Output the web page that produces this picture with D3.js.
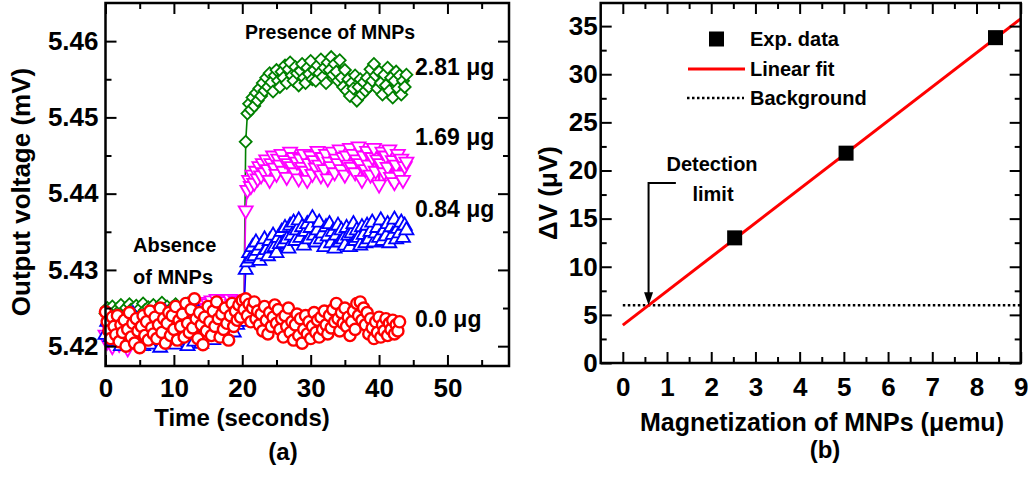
<!DOCTYPE html>
<html>
<head>
<meta charset="utf-8">
<script src="https://cdn.jsdelivr.net/npm/d3@7"></script>
<style>
  body { margin: 0; background: #fff; }
  svg text { font-family: "Liberation Sans", Arial, sans-serif; font-weight: bold; fill: #000; }
</style>
</head>
<body>
<svg id="chart" width="1028" height="478"></svg>
<script>
// ---- panel (a): output voltage (mV) sampled every 0.25 s ----
const sampleStep = 0.25;
const signal281 = [
  5.4243, 5.4250, 5.4238, 5.4247, 5.4252, 5.4240, 5.4235, 5.4249, 5.4246, 5.4254,
  5.4241, 5.4237, 5.4250, 5.4244, 5.4255, 5.4248, 5.4239, 5.4245, 5.4253, 5.4236,
  5.4249, 5.4242, 5.4256, 5.4247, 5.4238, 5.4251, 5.4244, 5.4240, 5.4254, 5.4246,
  5.4235, 5.4250, 5.4243, 5.4257, 5.4248, 5.4239, 5.4252, 5.4245, 5.4237, 5.4251,
  5.4244, 5.4255, 5.4240, 5.4248, 5.4236, 5.4253, 5.4246, 5.4242, 5.4256, 5.4249,
  5.4238, 5.4247, 5.4252, 5.4241, 5.4255, 5.4244, 5.4250, 5.4237, 5.4248, 5.4253,
  5.4243, 5.4256, 5.4240, 5.4249, 5.4246, 5.4252, 5.4239, 5.4254, 5.4245, 5.4250,
  5.4242, 5.4257, 5.4247, 5.4251, 5.4244, 5.4255, 5.4249, 5.4246, 5.4253, 5.4248,
  5.4250, 5.4251, 5.4468,
  5.4505, 5.4518, 5.4510, 5.4526, 5.4515, 5.4532, 5.4522, 5.4538, 5.4528, 5.4545,
  5.4535, 5.4552, 5.4540, 5.4558, 5.4546, 5.4534, 5.4555, 5.4562, 5.4548, 5.4540,
  5.4560, 5.4552, 5.4568, 5.4545, 5.4563, 5.4572, 5.4555, 5.4548, 5.4566, 5.4558,
  5.4542, 5.4561, 5.4570, 5.4552, 5.4545, 5.4565, 5.4557, 5.4574, 5.4550, 5.4562,
  5.4548, 5.4568, 5.4558, 5.4576, 5.4553, 5.4565, 5.4545, 5.4572, 5.4562, 5.4579,
  5.4556, 5.4570, 5.4560, 5.4548, 5.4575, 5.4552, 5.4540, 5.4562, 5.4535, 5.4550,
  5.4528, 5.4545, 5.4538, 5.4555, 5.4522, 5.4540, 5.4550, 5.4530, 5.4546, 5.4535,
  5.4552, 5.4540, 5.4563, 5.4548, 5.4570, 5.4555, 5.4538, 5.4560, 5.4545, 5.4530,
  5.4556, 5.4542, 5.4565, 5.4535, 5.4552, 5.4526, 5.4548, 5.4560, 5.4538, 5.4555,
  5.4530, 5.4548, 5.4540, 5.4556
];
const signal169 = [
  5.4215, 5.4206, 5.4222, 5.4211, 5.4200, 5.4218, 5.4227, 5.4209, 5.4203, 5.4220,
  5.4212, 5.4230, 5.4205, 5.4197, 5.4216, 5.4224, 5.4208, 5.4214, 5.4232, 5.4210,
  5.4202, 5.4225, 5.4217, 5.4235, 5.4212, 5.4206, 5.4228, 5.4220, 5.4238, 5.4215,
  5.4226, 5.4210, 5.4233, 5.4222, 5.4240, 5.4218, 5.4230, 5.4214, 5.4237, 5.4225,
  5.4244, 5.4228, 5.4216, 5.4236, 5.4248, 5.4230, 5.4242, 5.4222, 5.4250, 5.4238,
  5.4246, 5.4232, 5.4255, 5.4240, 5.4228, 5.4252, 5.4244, 5.4258, 5.4236, 5.4250,
  5.4256, 5.4242, 5.4260, 5.4248, 5.4254, 5.4262, 5.4245, 5.4258, 5.4250, 5.4261,
  5.4253, 5.4259, 5.4247, 5.4262, 5.4255, 5.4250, 5.4260, 5.4256, 5.4252, 5.4258,
  5.4255, 5.4257, 5.4378,
  5.4405, 5.4418, 5.4410, 5.4425, 5.4414, 5.4430, 5.4420, 5.4436, 5.4424, 5.4440,
  5.4428, 5.4445, 5.4432, 5.4418, 5.4440, 5.4450, 5.4434, 5.4426, 5.4446, 5.4438,
  5.4452, 5.4430, 5.4444, 5.4422, 5.4440, 5.4455, 5.4436, 5.4448, 5.4428, 5.4442,
  5.4420, 5.4446, 5.4435, 5.4452, 5.4430, 5.4418, 5.4440, 5.4450, 5.4426, 5.4444,
  5.4434, 5.4456, 5.4438, 5.4424, 5.4448, 5.4432, 5.4452, 5.4420, 5.4442, 5.4436,
  5.4455, 5.4428, 5.4446, 5.4440, 5.4458, 5.4432, 5.4448, 5.4425, 5.4450, 5.4438,
  5.4460, 5.4435, 5.4452, 5.4428, 5.4445, 5.4462, 5.4440, 5.4418, 5.4450, 5.4432,
  5.4456, 5.4438, 5.4425, 5.4448, 5.4460, 5.4430, 5.4445, 5.4412, 5.4440, 5.4455,
  5.4428, 5.4450, 5.4435, 5.4458, 5.4422, 5.4444, 5.4415, 5.4438, 5.4452, 5.4425,
  5.4446, 5.4418, 5.4436, 5.4442
];
const signal084 = [
  5.4215, 5.4232, 5.4240, 5.4212, 5.4225, 5.4206, 5.4218, 5.4235, 5.4210, 5.4200,
  5.4222, 5.4208, 5.4238, 5.4216, 5.4204, 5.4228, 5.4242, 5.4212, 5.4220, 5.4205,
  5.4230, 5.4214, 5.4200, 5.4224, 5.4236, 5.4210, 5.4202, 5.4226, 5.4215, 5.4238,
  5.4208, 5.4220, 5.4198, 5.4232, 5.4212, 5.4244, 5.4218, 5.4205, 5.4228, 5.4210,
  5.4236, 5.4202, 5.4222, 5.4214, 5.4240, 5.4208, 5.4230, 5.4216, 5.4200, 5.4226,
  5.4212, 5.4238, 5.4206, 5.4224, 5.4245, 5.4215, 5.4203, 5.4232, 5.4220, 5.4210,
  5.4234, 5.4218, 5.4242, 5.4208, 5.4228, 5.4214, 5.4236, 5.4222, 5.4246, 5.4216,
  5.4230, 5.4212, 5.4240, 5.4225, 5.4235, 5.4218, 5.4244, 5.4228, 5.4238, 5.4232,
  5.4240, 5.4245, 5.4300,
  5.4310, 5.4322, 5.4315, 5.4330, 5.4318, 5.4336, 5.4325, 5.4312, 5.4332, 5.4320,
  5.4340, 5.4326, 5.4318, 5.4338, 5.4328, 5.4345, 5.4330, 5.4322, 5.4342, 5.4334,
  5.4350, 5.4335, 5.4355, 5.4340, 5.4328, 5.4358, 5.4345, 5.4362, 5.4338, 5.4352,
  5.4365, 5.4342, 5.4356, 5.4332, 5.4350, 5.4360, 5.4340, 5.4355, 5.4368, 5.4345,
  5.4336, 5.4352, 5.4362, 5.4340, 5.4348, 5.4330, 5.4356, 5.4344, 5.4360, 5.4335,
  5.4350, 5.4328, 5.4345, 5.4358, 5.4336, 5.4352, 5.4340, 5.4332, 5.4355, 5.4345,
  5.4330, 5.4348, 5.4360, 5.4338, 5.4352, 5.4342, 5.4332, 5.4356, 5.4346, 5.4335,
  5.4358, 5.4340, 5.4350, 5.4362, 5.4336, 5.4348, 5.4355, 5.4342, 5.4365, 5.4338,
  5.4352, 5.4344, 5.4360, 5.4335, 5.4356, 5.4346, 5.4366, 5.4340, 5.4354, 5.4348,
  5.4362, 5.4342, 5.4358, 5.4352
];
const signal000 = [
  5.4245, 5.4232, 5.4220, 5.4210, 5.4238, 5.4226, 5.4215, 5.4240, 5.4206, 5.4228,
  5.4218, 5.4234, 5.4200, 5.4222, 5.4244, 5.4212, 5.4230, 5.4204, 5.4236, 5.4220,
  5.4198, 5.4226, 5.4240, 5.4214, 5.4232, 5.4208, 5.4246, 5.4224, 5.4216, 5.4238,
  5.4210, 5.4228, 5.4250, 5.4218, 5.4236, 5.4204, 5.4230, 5.4244, 5.4214, 5.4240,
  5.4222, 5.4252, 5.4208, 5.4234, 5.4226, 5.4242, 5.4212, 5.4256, 5.4230, 5.4218,
  5.4248, 5.4224, 5.4262, 5.4236, 5.4210, 5.4244, 5.4228, 5.4202, 5.4238, 5.4220,
  5.4252, 5.4232, 5.4214, 5.4246, 5.4226, 5.4258, 5.4236, 5.4212, 5.4242, 5.4222,
  5.4250, 5.4230, 5.4208, 5.4240, 5.4256, 5.4226, 5.4246, 5.4234, 5.4254, 5.4238,
  5.4260,
  5.4248, 5.4262, 5.4240, 5.4255, 5.4232, 5.4250, 5.4258, 5.4236, 5.4246, 5.4228,
  5.4242, 5.4220, 5.4252, 5.4234, 5.4216, 5.4244, 5.4226, 5.4238, 5.4254, 5.4230,
  5.4248, 5.4222, 5.4236, 5.4212, 5.4240, 5.4226, 5.4250, 5.4218, 5.4232, 5.4208,
  5.4228, 5.4242, 5.4214, 5.4236, 5.4204, 5.4222, 5.4240, 5.4216, 5.4232, 5.4210,
  5.4226, 5.4244, 5.4218, 5.4234, 5.4212, 5.4238, 5.4222, 5.4246, 5.4228, 5.4216,
  5.4240, 5.4224, 5.4248, 5.4232, 5.4256, 5.4236, 5.4220, 5.4244, 5.4230, 5.4250,
  5.4226, 5.4238, 5.4214, 5.4232, 5.4246, 5.4222, 5.4256, 5.4240, 5.4258, 5.4234,
  5.4250, 5.4228, 5.4244, 5.4216, 5.4236, 5.4224, 5.4210, 5.4232, 5.4218, 5.4238,
  5.4212, 5.4228, 5.4220, 5.4236, 5.4214, 5.4230, 5.4222, 5.4234, 5.4216, 5.4228,
  5.4220, 5.4232
];
const massLabels = ["2.81 \u03bcg", "1.69 \u03bcg", "0.84 \u03bcg", "0.0 \u03bcg"];
const massLabelY = [5.4566, 5.4474, 5.4380, 5.4236];
const timeTicks = [0, 10, 20, 30, 40, 50];
const voltTicks = [5.42, 5.43, 5.44, 5.45, 5.46];

// ---- panel (b): delta V vs magnetization ----
const magnetization = [2.53, 5.05, 8.43];
const deltaV = [13.0, 21.8, 33.8];
const fitIntercept = 3.94;
const fitSlope = 3.535;
const backgroundLevel = 6.0;
const magTicks = [0, 1, 2, 3, 4, 5, 6, 7, 8, 9];
const dvTicks = [0, 5, 10, 15, 20, 25, 30, 35];
const legendNames = ["Exp. data", "Linear fit", "Background"];

const svg = d3.select("#chart");

// scales
const xa = d3.scaleLinear().domain([0, 59]).range([105.5, 509]);
const ya = d3.scaleLinear().domain([5.4174, 5.465]).range([366, 3]);
const xb = d3.scaleLinear().domain([-0.5, 9]).range([600.7, 1020.7]);
const yb = d3.scaleLinear().domain([0, 37.4]).range([363, 3]);

function frame(x, y, o) {
  const g = svg.append("g");
  const [x0, x1] = x.range(), [y0, y1] = y.range();
  const style = sel => {
    sel.select(".domain").remove();
    sel.selectAll("line").attr("stroke", "#000").attr("stroke-width", 2);
    sel.selectAll("text").style("font-size", "26px").attr("fill", "#000");
  };
  // minor ticks first
  g.append("g").attr("transform", `translate(0,${y0})`)
    .call(d3.axisBottom(x).tickValues(o.xMinor).tickSize(-6).tickFormat("")).call(style);
  g.append("g").attr("transform", `translate(0,${y1})`)
    .call(d3.axisTop(x).tickValues(o.xMinor).tickSize(-6).tickFormat("")).call(style);
  g.append("g").attr("transform", `translate(${x0},0)`)
    .call(d3.axisLeft(y).tickValues(o.yMinor).tickSize(-6).tickFormat("")).call(style);
  g.append("g").attr("transform", `translate(${x1},0)`)
    .call(d3.axisRight(y).tickValues(o.yMinor).tickSize(-6).tickFormat("")).call(style);
  // major ticks
  g.append("g").attr("transform", `translate(0,${y0})`)
    .call(d3.axisBottom(x).tickValues(o.xMajor).tickSize(-11).tickPadding(o.xPad).tickFormat(o.xFmt)).call(style);
  g.append("g").attr("transform", `translate(0,${y1})`)
    .call(d3.axisTop(x).tickValues(o.xMajor).tickSize(-11).tickFormat("")).call(style);
  g.append("g").attr("transform", `translate(${x0},0)`)
    .call(d3.axisLeft(y).tickValues(o.yMajor).tickSize(-11).tickPadding(o.yPad).tickFormat(o.yFmt)).call(style);
  g.append("g").attr("transform", `translate(${x1},0)`)
    .call(d3.axisRight(y).tickValues(o.yMajor).tickSize(-11).tickFormat("")).call(style);
  g.append("rect")
    .attr("x", x0).attr("y", y1).attr("width", x1 - x0).attr("height", y0 - y1)
    .attr("fill", "none").attr("stroke", "#000").attr("stroke-width", 2.5);
}

// ---------- panel (a) ----------
const series = [
  { vals: signal281, color: "#008000", shape: "diamond" },
  { vals: signal169, color: "#ff00ff", shape: "down" },
  { vals: signal084, color: "#0000ff", shape: "up" },
  { vals: signal000, color: "#ff0000", shape: "circle" }
];

const plotA = svg.append("g");
const line = d3.line().x(d => xa(d.t)).y(d => ya(d.v));
const diamond = d3.symbol().type(d3.symbolSquare).size(72)();
const tri = d3.symbol().type(d3.symbolTriangle).size(85)();

series.forEach(s => {
  const pts = s.vals.map((v, i) => ({ t: i * sampleStep, v }));
  const g = plotA.append("g");
  g.append("path").datum(pts).attr("d", line)
    .attr("fill", "none").attr("stroke", s.color).attr("stroke-width", 1.6);
  const m = g.selectAll(".m").data(pts).enter();
  if (s.shape === "circle") {
    m.append("circle").attr("cx", d => xa(d.t)).attr("cy", d => ya(d.v)).attr("r", 5.6)
      .attr("fill", "#fff").attr("stroke", s.color).attr("stroke-width", 2.4);
  } else {
    const path = s.shape === "diamond" ? diamond : tri;
    const rot = s.shape === "diamond" ? 45 : s.shape === "down" ? 180 : 0;
    m.append("path").attr("d", path)
      .attr("transform", d => `translate(${xa(d.t)},${ya(d.v)}) rotate(${rot})`)
      .attr("fill", "#fff").attr("stroke", s.color).attr("stroke-width", 1.8);
  }
});

frame(xa, ya, {
  xMajor: timeTicks, xMinor: d3.range(5, 59, 10), xPad: 13, xFmt: d3.format("d"),
  yMajor: voltTicks, yMinor: [5.425, 5.435, 5.445, 5.455], yPad: 7, yFmt: d3.format(".2f")
});

massLabels.forEach((t, i) => {
  svg.append("text").attr("x", 415).attr("y", ya(massLabelY[i])).attr("dy", "0.35em")
    .style("font-size", "23px").text(t);
});
svg.append("text").attr("x", 245).attr("y", 39).style("font-size", "19.5px").text("Presence of MNPs");
svg.append("text").attr("x", 133).attr("y", 252).style("font-size", "20px").text("Absence");
svg.append("text").attr("x", 133).attr("y", 284).style("font-size", "20px").text("of MNPs");

svg.append("text").attr("x", 242).attr("y", 426).attr("text-anchor", "middle")
  .style("font-size", "24px").text("Time (seconds)");
svg.append("text").attr("transform", "translate(30,192) rotate(-90)").attr("text-anchor", "middle")
  .style("font-size", "26px").text("Output voltage (mV)");
svg.append("text").attr("x", 283).attr("y", 460).attr("text-anchor", "middle")
  .style("font-size", "24px").text("(a)");

// ---------- panel (b) ----------
const plotB = svg.append("g");
const xEnd = xb.domain()[1];
plotB.append("line")
  .attr("x1", xb(0)).attr("x2", xb(xEnd))
  .attr("y1", yb(backgroundLevel)).attr("y2", yb(backgroundLevel))
  .attr("stroke", "#000").attr("stroke-width", 2.5).attr("stroke-dasharray", "2.5,2.5");
plotB.append("line")
  .attr("x1", xb(0)).attr("y1", yb(fitIntercept))
  .attr("x2", xb(xEnd)).attr("y2", yb(fitIntercept + fitSlope * xEnd))
  .attr("stroke", "#ff0000").attr("stroke-width", 3);
plotB.selectAll(".sq").data(magnetization).enter().append("rect")
  .attr("x", (d) => xb(d) - 7.5).attr("y", (d, i) => yb(deltaV[i]) - 7.5)
  .attr("width", 15).attr("height", 15).attr("fill", "#000");

// detection limit: where fit crosses background
const limitX = (backgroundLevel - fitIntercept) / fitSlope;
const ax = xb(limitX);
plotB.append("path")
  .attr("d", `M${xb(1.2)},${yb(18.7)} H${ax} V${yb(backgroundLevel) - 12}`)
  .attr("fill", "none").attr("stroke", "#000").attr("stroke-width", 2);
plotB.append("path")
  .attr("d", `M${ax},${yb(backgroundLevel)} l-4.5,-13 l9,0 z`)
  .attr("fill", "#000");
svg.append("text").attr("x", 712).attr("y", 171).attr("text-anchor", "middle")
  .style("font-size", "20px").text("Detection");
svg.append("text").attr("x", 713).attr("y", 201).attr("text-anchor", "middle")
  .style("font-size", "20px").text("limit");

frame(xb, yb, {
  xMajor: magTicks, xMinor: d3.range(0.5, 9, 1), xPad: 15, xFmt: d3.format("d"),
  yMajor: dvTicks, yMinor: d3.range(2.5, 37.4, 5), yPad: 3, yFmt: d3.format("d")
});

// legend
const leg = svg.append("g");
const legY = [39, 69, 98];
leg.append("rect").attr("x", 709).attr("y", legY[0] - 7.5).attr("width", 15).attr("height", 15).attr("fill", "#000");
leg.append("line").attr("x1", 688).attr("x2", 745).attr("y1", legY[1]).attr("y2", legY[1])
  .attr("stroke", "#ff0000").attr("stroke-width", 3);
leg.append("line").attr("x1", 687).attr("x2", 744).attr("y1", legY[2]).attr("y2", legY[2])
  .attr("stroke", "#000").attr("stroke-width", 2.5).attr("stroke-dasharray", "2.5,2.5");
legendNames.forEach((t, i) => {
  leg.append("text").attr("x", 750).attr("y", legY[i]).attr("dy", "0.36em")
    .style("font-size", "20px").text(t);
});

svg.append("text").attr("x", 822).attr("y", 431).attr("text-anchor", "middle")
  .style("font-size", "25px").text("Magnetization of MNPs (\u03bcemu)");
svg.append("text").attr("transform", "translate(557,193) rotate(-90)").attr("text-anchor", "middle")
  .style("font-size", "26px").text("\u0394V (\u03bcV)");
svg.append("text").attr("x", 825).attr("y", 458).attr("text-anchor", "middle")
  .style("font-size", "24px").text("(b)");
</script>
</body>
</html>
